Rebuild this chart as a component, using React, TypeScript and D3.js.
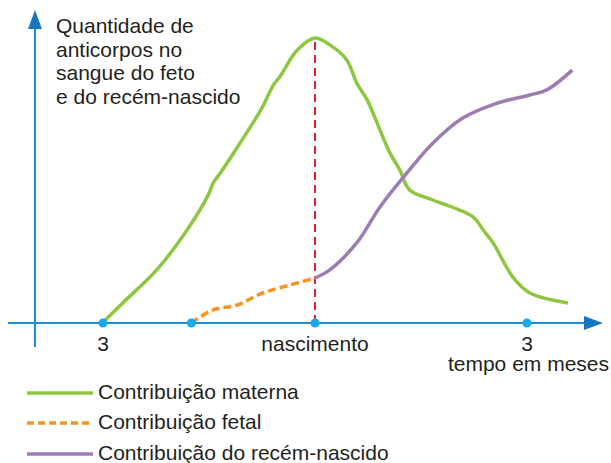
import React from "react";
import * as d3 from "d3";

// months relative to birth, antibody amount (0-100 arbitrary)
const maternalX = [-3.01, -2.72, -2.24, -1.81, -1.51, -1.44, -1.34, -1.06, -0.75, -0.59, -0.5, -0.25, 0, 0.21, 0.45, 0.59, 0.74, 0.92, 1.06, 1.2, 1.34, 1.67, 2.24, 2.38, 2.52, 2.8, 3.04, 3.58];
const maternalY = [0, 6.7, 17.7, 31, 42.7, 46.7, 50, 60, 71.7, 79.3, 82, 91, 95, 92.7, 87.7, 80, 74.3, 64.3, 56.7, 51, 44.3, 41, 35.3, 31, 26.7, 15.3, 10, 6.7];
const fetalX = [-1.75, -1.45, -1.1, -0.74, -0.35, 0];
const fetalY = [0, 4.3, 6, 10, 12.7, 15];
const newbornX = [0, 0.21, 0.59, 0.92, 1.3, 1.67, 2.09, 2.58, 3.04, 3.28, 3.64];
const newbornY = [15, 17.7, 26.7, 38.7, 50, 60, 68.3, 73.3, 76, 77.7, 84.3];

const axisPointsX = [-3, -1.75, 0, 3];
const tickLabels = [
  { x: -3, label: "3" },
  { x: 0, label: "nascimento" },
  { x: 3, label: "3" },
];
const yTitle = ["Quantidade de", "anticorpos no", "sangue do feto", "e do recém-nascido"];
const xTitle = "tempo em meses";
const legendLabels = ["Contribuição materna", "Contribuição fetal", "Contribuição do recém-nascido"];

const GREEN = "#8dc63f";
const ORANGE = "#f7941d";
const PURPLE = "#9b7db3";
const RED = "#e3202b";
const AXIS = "#1b8fd2";
const DOT = "#18a9e6";
const FONT = "'Liberation Sans', Arial, sans-serif";

export default function App() {
  const W = 611, H = 463;
  const x = d3.scaleLinear().domain([0, 3]).range([315, 527]);
  const y = d3.scaleLinear().domain([0, 100]).range([323, 23]);
  const line = d3
    .line<[number, number]>()
    .x((d) => x(d[0]))
    .y((d) => y(d[1]))
    .curve(d3.curveCatmullRom.alpha(0.5));
  const zip = (a: number[], b: number[]) => a.map((v, i) => [v, b[i]] as [number, number]);

  const axisY = y(0);
  const yAxisX = 35;
  const legendY = [393, 423, 454];
  const legendStyles = [
    { c: GREEN, dash: undefined },
    { c: ORANGE, dash: "7,4" },
    { c: PURPLE, dash: undefined },
  ];

  return (
    <svg width={W} height={H} style={{ position: "absolute", left: 0, top: 0, background: "#fff" }} fontFamily={FONT}>
      {/* y axis */}
      <line x1={yAxisX} x2={yAxisX} y1={347} y2={26} stroke={AXIS} strokeWidth={2} />
      <path d={`M${yAxisX},10 L${yAxisX + 7},29 L${yAxisX - 7},29 Z`} fill="#1677c0" />
      {/* x axis */}
      <line x1={8} x2={588} y1={axisY} y2={axisY} stroke={AXIS} strokeWidth={2} />
      <path d={`M603,${axisY} L584,${axisY - 7} L584,${axisY + 7} Z`} fill="#1677c0" />

      {/* red dashed birth line */}
      <line x1={x(0)} x2={x(0)} y1={y(0)} y2={y(95)} stroke={RED} strokeWidth={2} strokeDasharray="8,5" />

      {/* curves */}
      <path d={line(zip(maternalX, maternalY)) || ""} fill="none" stroke={GREEN} strokeWidth={3.5} />
      <path d={line(zip(newbornX, newbornY)) || ""} fill="none" stroke={PURPLE} strokeWidth={3.5} />
      <path d={line(zip(fetalX, fetalY)) || ""} fill="none" stroke={ORANGE} strokeWidth={3.5} strokeDasharray="8,4" />

      {/* axis points */}
      {axisPointsX.map((v, i) => (
        <circle key={i} cx={x(v)} cy={axisY} r={4.5} fill={DOT} />
      ))}

      {/* tick labels */}
      {tickLabels.map((t, i) => (
        <text key={i} x={x(t.x)} y={351} textAnchor="middle" fontSize={21} fill="#231f20">
          {t.label}
        </text>
      ))}
      <text x={609} y={371} textAnchor="end" fontSize={21} fill="#231f20">
        {xTitle}
      </text>

      {/* y title */}
      {yTitle.map((s, i) => (
        <text key={i} x={56} y={33 + i * 23.6} fontSize={21} fill="#231f20">
          {s}
        </text>
      ))}

      {/* legend */}
      {legendLabels.map((s, i) => (
        <g key={i}>
          <line x1={27} x2={93} y1={legendY[i]} y2={legendY[i]} stroke={legendStyles[i].c} strokeWidth={3.5} strokeDasharray={legendStyles[i].dash} />
          <text x={98} y={legendY[i] + 6} fontSize={21} fill="#231f20">
            {s}
          </text>
        </g>
      ))}
    </svg>
  );
}
